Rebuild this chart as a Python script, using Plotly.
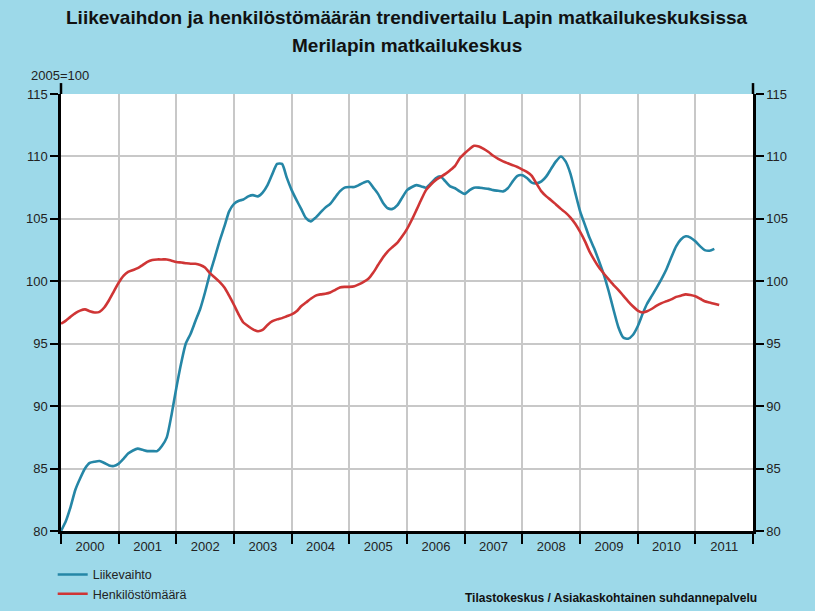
import pandas as pd
import plotly.graph_objects as go

title_line1 = "Liikevaihdon ja henkilöstömäärän trendivertailu Lapin matkailukeskuksissa"
title_line2 = "Merilapin matkailukeskus"
base_label = "2005=100"
source_text = "Tilastokeskus / Asiakaskohtainen suhdannepalvelu"

start_month = "2000-01-01"

liikevaihto = [
    80.0, 80.8, 81.9, 83.3, 84.2, 85.0, 85.45, 85.55, 85.6, 85.45, 85.25, 85.2,
    85.4, 85.8, 86.2, 86.45, 86.6, 86.5, 86.4, 86.4, 86.4, 86.8, 87.5, 89.3,
    91.5, 93.5, 95.0, 95.8, 96.8, 97.8, 99.1, 100.6, 101.9, 103.2, 104.4, 105.6,
    106.2, 106.45, 106.55, 106.8, 106.9, 106.8, 107.1, 107.7, 108.6, 109.4, 109.4, 108.3,
    107.3, 106.5, 105.8, 105.05, 104.8, 105.1, 105.5, 105.9, 106.2, 106.7, 107.2, 107.5,
    107.55, 107.55, 107.7, 107.9, 108.0, 107.5, 107.0, 106.3, 105.85, 105.8, 106.1, 106.7,
    107.3, 107.55, 107.7, 107.6, 107.5, 107.85, 108.25, 108.4, 108.0, 107.6, 107.45, 107.2,
    107.0, 107.3, 107.5, 107.5, 107.45, 107.4, 107.3, 107.25, 107.2, 107.45, 108.0, 108.45,
    108.5, 108.25, 107.9, 107.85, 108.0, 108.4, 109.0, 109.6, 110.0, 109.6, 108.6, 107.1,
    105.6, 104.5, 103.5, 102.6, 101.6, 100.5, 99.2, 97.7, 96.3, 95.5, 95.4, 95.7,
    96.4, 97.4, 98.2, 98.85, 99.5, 100.2, 100.95, 101.9, 102.8, 103.35, 103.6, 103.5,
    103.2, 102.8, 102.5, 102.45, 102.6,
]

henkilostomaara = [
    96.6, 96.85, 97.15, 97.45, 97.65, 97.75, 97.6, 97.5, 97.55, 97.9, 98.5, 99.2,
    99.9, 100.45, 100.75, 100.9, 101.05, 101.3, 101.55, 101.7, 101.75, 101.75, 101.75, 101.65,
    101.55, 101.5, 101.45, 101.4, 101.4, 101.3, 101.1, 100.65, 100.3, 99.95, 99.5, 98.85,
    98.1, 97.3, 96.7, 96.4, 96.15, 96.0, 96.1, 96.5, 96.8, 96.95, 97.05, 97.2,
    97.35, 97.6, 98.0, 98.3, 98.6, 98.85, 98.95, 99.0, 99.1, 99.3, 99.5, 99.55,
    99.55, 99.6, 99.75, 99.95, 100.2, 100.7, 101.3, 101.9, 102.4, 102.75, 103.1, 103.6,
    104.2, 104.95, 105.7, 106.55, 107.3, 107.75, 108.1, 108.35, 108.6, 108.9, 109.25, 109.85,
    110.25, 110.6, 110.85, 110.8, 110.6, 110.35, 110.05, 109.8, 109.6, 109.45, 109.3, 109.15,
    108.95, 108.75, 108.45, 107.8, 107.2, 106.8, 106.5, 106.15, 105.8, 105.5, 105.1, 104.6,
    103.95, 103.2, 102.4, 101.7, 101.1, 100.6, 100.15, 99.7, 99.3, 98.85, 98.4, 98.0,
    97.65, 97.5, 97.6, 97.8, 98.05, 98.25, 98.4, 98.55, 98.75, 98.85, 98.95, 98.9,
    98.8, 98.6, 98.4, 98.3, 98.2, 98.1,
]

y_ticks = [80, 85, 90, 95, 100, 105, 110, 115]

months_lv = pd.date_range(start_month, periods=len(liikevaihto), freq="MS")
months_hm = pd.date_range(start_month, periods=len(henkilostomaara), freq="MS")

BG = "#9DD9E9"
BLUE = "#2586A6"
RED = "#CF3535"
GRID = "#C8C8C8"
FONT = "Liberation Sans, Arial, sans-serif"

fig = go.Figure()
fig.add_trace(go.Scatter(x=months_lv, y=liikevaihto, mode="lines", name="Liikevaihto",
                         line=dict(color=BLUE, width=2.6, shape="spline", smoothing=0.6)))
fig.add_trace(go.Scatter(x=months_hm, y=henkilostomaara, mode="lines", name="Henkilöstömäärä",
                         line=dict(color=RED, width=2.6, shape="spline", smoothing=0.6)))
# invisible trace to activate the right-hand axis
fig.add_trace(go.Scatter(x=months_hm, y=henkilostomaara, mode="lines", yaxis="y2",
                         line=dict(color="rgba(0,0,0,0)", width=0), showlegend=False, hoverinfo="skip"))

fig.update_layout(
    width=815, height=611,
    paper_bgcolor=BG, plot_bgcolor="white",
    margin=dict(l=61, r=62, t=94, b=80, autoexpand=False),
    font=dict(family=FONT, size=13, color="#222222"),
    showlegend=True,
    legend=dict(x=-0.012, y=-0.066, xanchor="left", yanchor="top", orientation="v",
                bgcolor="rgba(0,0,0,0)", font=dict(size=12.5, color="#222222"),
                tracegroupgap=0, itemwidth=30),
    xaxis=dict(type="date", range=["2000-01-01", "2012-01-01"], tick0="2000-01-01", dtick="M12",
               tickformat="%Y", ticklabelmode="period", ticks="outside", ticklen=10, tickwidth=1.5,
               tickcolor="black", showgrid=True, gridcolor=GRID, gridwidth=1.5,
               showline=True, linecolor="black", linewidth=2.5, zeroline=False,
               ticklabelstandoff=-8,
               tickfont=dict(size=13, color="#222222")),
    yaxis=dict(range=[80, 115], tickvals=y_ticks, ticks="outside", ticklen=8, tickwidth=1.5,
               tickcolor="black", showgrid=True, gridcolor=GRID, gridwidth=1.5,
               showline=True, linecolor="black", linewidth=2.5, zeroline=False,
               tickfont=dict(size=13, color="#222222")),
    yaxis2=dict(range=[80, 115], tickvals=y_ticks, overlaying="y", side="right", ticks="outside",
                ticklen=8, tickwidth=1.5, tickcolor="black", showgrid=False,
                showline=True, linecolor="black", linewidth=2.5, zeroline=False,
                tickfont=dict(size=13, color="#222222")),
    annotations=[
        dict(text="<b>" + title_line1 + "</b>", xref="paper", yref="paper", x=0.5, y=1.0,
             yshift=77, xanchor="center", yanchor="middle", showarrow=False,
             font=dict(size=19, color="#111111")),
        dict(text="<b>" + title_line2 + "</b>", xref="paper", yref="paper", x=0.5, y=1.0,
             yshift=49, xanchor="center", yanchor="middle", showarrow=False,
             font=dict(size=19, color="#111111")),
        dict(text=base_label, xref="paper", yref="paper", x=0, y=1.0, xshift=-32, yshift=19,
             xanchor="left", yanchor="middle", showarrow=False, font=dict(size=13, color="#222222")),
        dict(text="<b>" + source_text + "</b>", xref="paper", yref="paper", x=1.0, y=0, xshift=6,
             yshift=-67, xanchor="right", yanchor="middle", showarrow=False,
             font=dict(size=12, color="#111111")),
    ],
    shapes=[
        dict(type="line", xref="paper", yref="paper", x0=0, x1=0, y0=1, y1=1.025,
             line=dict(color="black", width=2.5)),
        dict(type="line", xref="paper", yref="paper", x0=1, x1=1, y0=1, y1=1.025,
             line=dict(color="black", width=2.5)),
    ],
)

fig.write_html("out.html", config={"displayModeBar": False},
               post_script="document.body.style.margin='0';")
